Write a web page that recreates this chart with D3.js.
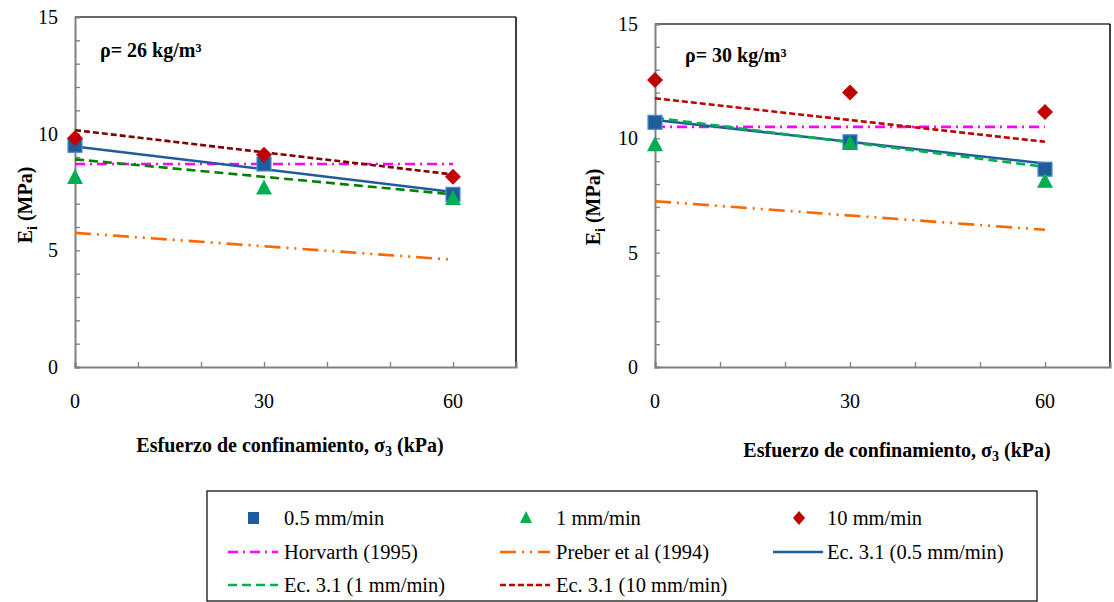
<!DOCTYPE html>
<html>
<head>
<meta charset="utf-8">
<script src="https://cdn.jsdelivr.net/npm/d3@7"></script>
<style>
  body { margin: 0; background: #fff; }
  text { font-family: 'Liberation Serif', 'DejaVu Serif', serif; }
</style>
</head>
<body>
<svg id="chart" width="1114" height="602"></svg>
<script>
// confining stress (kPa)
const sigma3 = [0, 30, 60];

// rho = 26 kg/m3
const left_05 = [9.5, 8.7, 7.4];
const left_1 = [8.1, 7.65, 7.2];
const left_10 = [9.8, 9.1, 8.15];
const left_horvarth = [8.7, 8.7];
const left_preber = [5.75, 4.6];
const left_ec05 = [9.45, 7.5];
const left_ec1 = [8.9, 7.4];
const left_ec10 = [10.15, 8.25];

// rho = 30 kg/m3
const right_05 = [10.7, 9.85, 8.65];
const right_1 = [9.7, 9.75, 8.1];
const right_10 = [12.55, 12.0, 11.15];
const right_horvarth = [10.5, 10.5];
const right_preber = [7.25, 6.0];
const right_ec05 = [10.8, 8.9];
const right_ec1 = [10.9, 8.75];
const right_ec10 = [11.75, 9.85];

const lineX = [0, 60];
const yLabels = [0, 5, 10, 15];
const xLabels = [0, 30, 60];

const svg = d3.select('#chart');
const serif = 'Liberation Serif, DejaVu Serif, serif';

const blue = '#1F5C99', green = '#00B050', red = '#C00000';
const magenta = '#FF00FF', orange = '#FF6600';

function drawPanel(opt) {
  const x = d3.scaleLinear().domain([0, 70]).range([opt.left, opt.right]);
  const y = d3.scaleLinear().domain([0, 15]).range([opt.bottom, opt.top]);
  const g = svg.append('g');

  // frame
  g.append('line').attr('x1', opt.left).attr('x2', opt.right).attr('y1', opt.top).attr('y2', opt.top)
    .attr('stroke', '#333').attr('stroke-width', 1.5);
  g.append('line').attr('x1', opt.right).attr('x2', opt.right).attr('y1', opt.top).attr('y2', opt.bottom)
    .attr('stroke', '#000').attr('stroke-width', 1.5);

  // y axis
  const yAxis = g.append('g').attr('transform', `translate(${opt.left},0)`)
    .call(d3.axisRight(y).tickValues(d3.range(0, 16)).tickSize(5).tickFormat(''));
  yAxis.select('.domain').attr('stroke', '#808080').attr('stroke-width', 2);
  yAxis.selectAll('.tick line').attr('stroke', '#808080').attr('stroke-width', 1.3);
  g.selectAll('.ylab').data(yLabels).enter().append('text')
    .attr('x', opt.left - 17).attr('y', d => y(d) + 7)
    .attr('font-family', serif)
    .attr('text-anchor', 'end').attr('font-size', 20).text(d => d);

  // x axis
  const xAxis = g.append('g').attr('transform', `translate(0,${opt.bottom})`)
    .call(d3.axisTop(x).tickValues(d3.range(0, 71, 10)).tickSize(5).tickFormat(''));
  xAxis.select('.domain').attr('stroke', '#808080').attr('stroke-width', 2);
  xAxis.selectAll('.tick line').attr('stroke', '#808080').attr('stroke-width', 1.3);
  g.selectAll('.xlab').data(xLabels).enter().append('text')
    .attr('x', d => x(d)).attr('y', opt.bottom + 41)
    .attr('font-family', serif)
    .attr('text-anchor', 'middle').attr('font-size', 20).text(d => d);

  // axis titles
  const yt = g.append('text')
    .attr('transform', `translate(${opt.ytitleX},${opt.ytitleY}) rotate(-90)`)
    .attr('font-family', serif)
    .attr('text-anchor', 'middle').attr('font-size', 20).attr('font-weight', 'bold');
  yt.append('tspan').text('E');
  yt.append('tspan').attr('font-size', 14).attr('dy', 5).text('i');
  yt.append('tspan').attr('dy', -5).text(' (MPa)');

  const xt = g.append('text')
    .attr('x', opt.xtitleX).attr('y', opt.xtitleY)
    .attr('font-family', serif)
    .attr('text-anchor', 'middle').attr('font-size', 20).attr('font-weight', 'bold');
  xt.append('tspan').text('Esfuerzo de confinamiento, σ');
  xt.append('tspan').attr('font-size', 14).attr('dy', 4).text('3');
  xt.append('tspan').attr('dy', -4).text(' (kPa)');

  g.append('text').attr('x', opt.rhoX).attr('y', opt.rhoY)
    .attr('font-family', serif)
    .attr('font-size', 20).attr('font-weight', 'bold').text(opt.rho);

  // fitted / reference lines
  const line = d3.line().x((d, i) => x(lineX[i])).y(d => y(d));
  const lines = [
    { data: opt.horvarth, color: magenta, dash: '10,5,2,5' },
    { data: opt.preber, color: orange, dash: '16,6,2,6,2,6' },
    { data: opt.ec05, color: blue, dash: null },
    { data: opt.ec1, color: opt.ec1Color, dash: '9,5' },
    { data: opt.ec10, color: opt.ec10Color, dash: '6,3' }
  ];
  lines.forEach(l => {
    g.append('path').datum(l.data).attr('d', line)
      .attr('fill', 'none').attr('stroke', l.color).attr('stroke-width', 2.6)
      .attr('stroke-dasharray', l.dash);
  });

  // markers
  g.selectAll('.sq').data(opt.s05).enter().append('rect')
    .attr('x', (d, i) => x(sigma3[i]) - 7).attr('y', d => y(d) - 7)
    .attr('width', 14).attr('height', 14)
    .attr('fill', blue).attr('stroke', '#4A8FD0').attr('stroke-width', 1.2);
  g.selectAll('.tri').data(opt.s1).enter().append('path')
    .attr('transform', (d, i) => `translate(${x(sigma3[i])},${y(d)})`)
    .attr('d', 'M0,-9L8,6L-8,6Z').attr('fill', green);
  g.selectAll('.dia').data(opt.s10).enter().append('path')
    .attr('transform', (d, i) => `translate(${x(sigma3[i])},${y(d)})`)
    .attr('d', 'M0,-8L8,0L0,8L-8,0Z').attr('fill', red);
}

drawPanel({
  left: 75, right: 516, top: 17, bottom: 367,
  ytitleX: 32, ytitleY: 205, xtitleX: 290, xtitleY: 452,
  rho: 'ρ= 26 kg/m³', rhoX: 100, rhoY: 57,
  s05: left_05, s1: left_1, s10: left_10,
  horvarth: left_horvarth, preber: left_preber,
  ec05: left_ec05, ec1: left_ec1, ec10: left_ec10,
  ec1Color: '#008000', ec10Color: '#800000'
});

drawPanel({
  left: 655, right: 1110, top: 24, bottom: 367,
  ytitleX: 600, ytitleY: 207, xtitleX: 897, xtitleY: 457,
  rho: 'ρ= 30 kg/m³', rhoX: 685, rhoY: 62,
  s05: right_05, s1: right_1, s10: right_10,
  horvarth: right_horvarth, preber: right_preber,
  ec05: right_ec05, ec1: right_ec1, ec10: right_ec10,
  ec1Color: green, ec10Color: red
});

// legend
const legendItems = [
  { label: '0.5 mm/min', type: 'square', color: blue },
  { label: '1 mm/min', type: 'triangle', color: green },
  { label: '10 mm/min', type: 'diamond', color: red },
  { label: 'Horvarth (1995)', type: 'line', color: magenta, dash: '10,5,2,5' },
  { label: 'Preber et al (1994)', type: 'line', color: orange, dash: '16,6,2,6,2,6' },
  { label: 'Ec. 3.1 (0.5 mm/min)', type: 'line', color: blue, dash: null },
  { label: 'Ec. 3.1 (1 mm/min)', type: 'line', color: green, dash: '9,5' },
  { label: 'Ec. 3.1 (10 mm/min)', type: 'line', color: red, dash: '6,3' }
];
const lg = svg.append('g');
lg.append('rect').attr('x', 207).attr('y', 491).attr('width', 830).attr('height', 110)
  .attr('fill', '#fff').attr('stroke', '#000').attr('stroke-width', 1.2);
const colX = [228, 500, 773];
const rowY = [518, 552, 585];
legendItems.forEach((it, i) => {
  const cx = colX[i % 3], cy = rowY[Math.floor(i / 3)];
  const item = lg.append('g').attr('transform', `translate(${cx},${cy})`);
  if (it.type === 'line') {
    item.append('line').attr('x1', 0).attr('x2', 50).attr('y1', 0).attr('y2', 0)
      .attr('stroke', it.color).attr('stroke-width', 2.6).attr('stroke-dasharray', it.dash);
  } else if (it.type === 'square') {
    item.append('rect').attr('x', 20).attr('y', -6).attr('width', 11).attr('height', 12).attr('fill', it.color);
  } else if (it.type === 'triangle') {
    item.append('path').attr('transform', 'translate(26,0)').attr('d', 'M0,-7L6,5L-6,5Z').attr('fill', it.color);
  } else {
    item.append('path').attr('transform', 'translate(26,0)').attr('d', 'M0,-7L6,0L0,7L-6,0Z').attr('fill', it.color);
  }
  item.append('text').attr('x', i % 3 === 2 ? 54 : 56).attr('y', 7).attr('font-size', 20.5)
    .attr('font-family', serif).text(it.label);
});
</script>
</body>
</html>
